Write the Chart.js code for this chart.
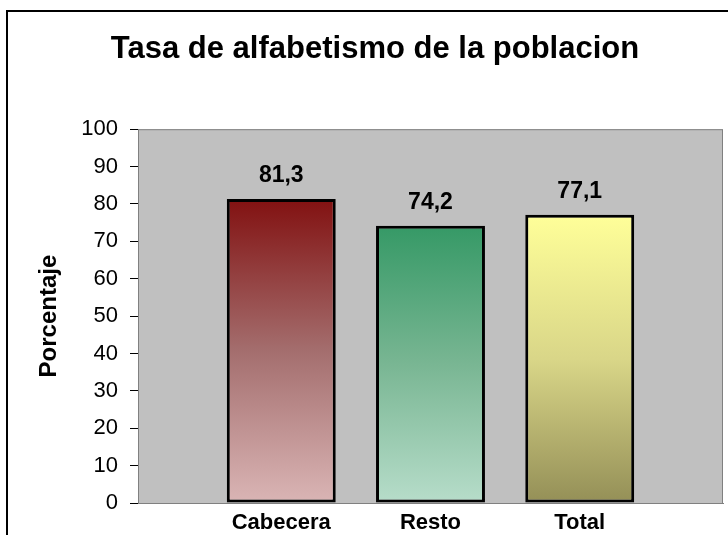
<!DOCTYPE html>
<html>
<head>
<meta charset="utf-8">
<script src="https://cdn.jsdelivr.net/npm/chart.js@4/dist/chart.umd.min.js"></script>
<style>
    html, body { margin: 0; padding: 0; background: #fff; overflow: hidden; }
    #wrap { position: absolute; left: 0; top: 0; width: 750px; height: 535px; }
</style>
</head>
<body>
<div id="wrap"><canvas id="barChart"></canvas></div>
<script>
// data
const categories = ['Cabecera', 'Resto', 'Total'];
const values = [81.3, 74.2, 77.1];
const yTicks = [0, 10, 20, 30, 40, 50, 60, 70, 80, 90, 100];

// gradient colours, top -> middle -> bottom, one set per bar
const topColors = ['#821111', '#359966', '#ffff99'];
const midColors = ['#a46e6e', '#79b693', '#d9d688'];
const bottomColors = ['#dab5b5', '#b7ddca', '#948f57'];

const fontFamily = '"Liberation Sans", Arial, sans-serif';

const frameAndBackground = {
    id: 'frameAndBackground',
    beforeDraw(chart) {
        const { ctx, chartArea } = chart;
        ctx.save();
        ctx.fillStyle = '#ffffff';
        ctx.fillRect(0, 0, chart.width, chart.height);
        // outer frame (right and bottom lie outside the window)
        ctx.strokeStyle = '#000000';
        ctx.lineWidth = 2;
        ctx.strokeRect(7, 11, 900, 700);
        // grey plot area with thin border
        ctx.fillStyle = '#c0c0c0';
        ctx.fillRect(chartArea.left, chartArea.top, chartArea.right - chartArea.left, chartArea.bottom - chartArea.top);
        ctx.strokeStyle = '#808080';
        ctx.lineWidth = 1;
        ctx.strokeRect(chartArea.left + 0.5, chartArea.top + 0.5, chartArea.right - chartArea.left - 1, chartArea.bottom - chartArea.top);
        ctx.restore();
    }
};

const valueLabels = {
    id: 'valueLabels',
    afterDatasetsDraw(chart) {
        const { ctx } = chart;
        const meta = chart.getDatasetMeta(0);
        ctx.save();
        ctx.font = 'bold 23px ' + fontFamily;
        ctx.fillStyle = '#000000';
        ctx.textAlign = 'center';
        ctx.textBaseline = 'alphabetic';
        meta.data.forEach((bar, i) => {
            ctx.fillText(values[i].toFixed(1).replace('.', ','), bar.x, bar.y - 17);
        });
        ctx.restore();
    }
};

const ctx = document.getElementById('barChart').getContext('2d');
const chart = new Chart(ctx, {
    type: 'bar',
    data: {
        datasets: [{
            label: 'Tasa de alfabetismo',
            data: values.map((v, i) => ({ x: i, y: v })),
            backgroundColor: function(context) {
                const i = context.dataIndex;
                const c = context.chart;
                if (context.type !== 'data' || !c.chartArea) return topColors[i];
                const y = c.scales.y;
                const g = c.ctx.createLinearGradient(0, y.getPixelForValue(values[i]), 0, y.getPixelForValue(0));
                g.addColorStop(0, topColors[i]);
                g.addColorStop(0.5, midColors[i]);
                g.addColorStop(1, bottomColors[i]);
                return g;
            },
            borderColor: '#000000',
            borderWidth: 3,
            borderSkipped: false,
            categoryPercentage: 1,
            barPercentage: 0.73
        }]
    },
    options: {
        responsive: true,
        maintainAspectRatio: false,
        animation: false,
        layout: {
            padding: { left: 27, right: 27, top: 0, bottom: 0 }
        },
        plugins: {
            legend: { display: false },
            tooltip: { enabled: false },
            title: {
                display: true,
                text: 'Tasa de alfabetismo de la poblacion',
                color: '#000000',
                font: { family: fontFamily, size: 31, weight: 'bold' },
                padding: { top: 31, bottom: 61 }
            }
        },
        scales: {
            x: {
                type: 'linear',
                offset: false,
                min: -0.96,
                max: 2.96,
                afterBuildTicks: function(scale) {
                    scale.ticks = categories.map((c, i) => ({ value: i }));
                },
                afterFit: function(scale) {
                    scale.height = 32;
                },
                ticks: {
                    callback: function(value) { return categories[value]; },
                    color: '#000000',
                    font: { family: fontFamily, size: 22, weight: 'bold' },
                    padding: 7,
                    maxRotation: 0,
                    autoSkip: false
                },
                grid: { display: false, drawTicks: false },
                border: { display: true, color: '#808080' }
            },
            y: {
                min: 0,
                max: 100,
                afterBuildTicks: function(scale) {
                    scale.ticks = yTicks.map(v => ({ value: v }));
                },
                afterFit: function(scale) {
                    scale.width = 111;
                },
                ticks: {
                    color: '#000000',
                    font: { family: fontFamily, size: 22 },
                    padding: 12
                },
                grid: {
                    drawOnChartArea: false,
                    drawTicks: true,
                    tickLength: 8,
                    color: '#000000'
                },
                border: { display: true, color: '#808080' },
                title: {
                    display: true,
                    text: 'Porcentaje',
                    color: '#000000',
                    font: { family: fontFamily, size: 24, weight: 'bold' },
                    padding: { top: 8, bottom: 0 }
                }
            }
        }
    },
    plugins: [frameAndBackground, valueLabels]
});
</script>
</body>
</html>
